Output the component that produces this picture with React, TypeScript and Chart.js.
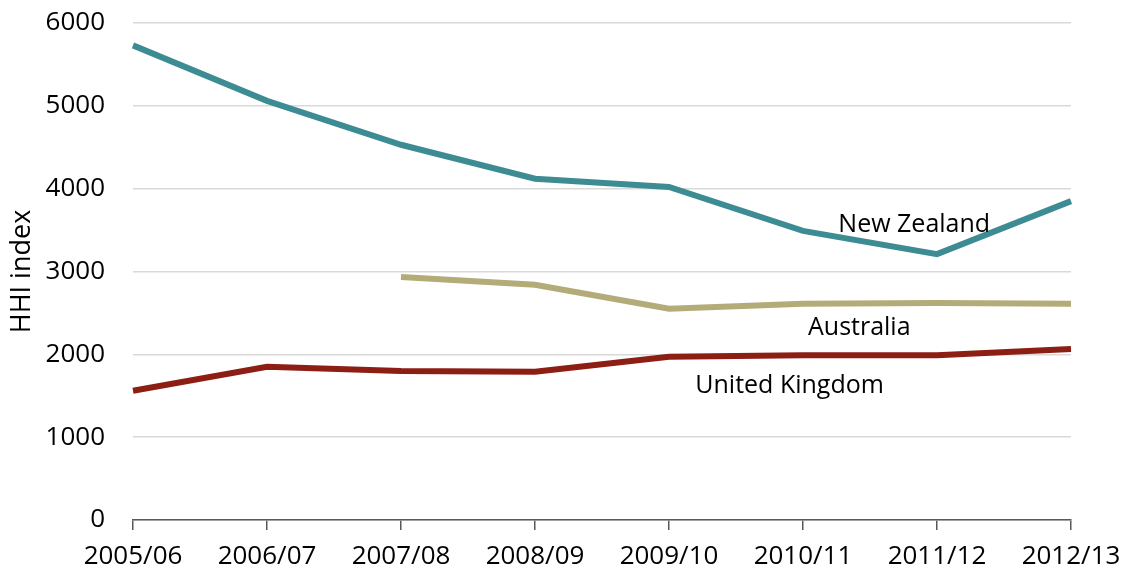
import React, { useEffect, useRef } from "react";
import { Chart, registerables } from "chart.js";

Chart.register(...registerables);

const categories = ["2005/06", "2006/07", "2007/08", "2008/09", "2009/10", "2010/11", "2011/12", "2012/13"];
const newZealand = [5730, 5060, 4530, 4120, 4020, 3490, 3210, 3850];
const australia = [null, null, 2935, 2840, 2550, 2610, 2620, 2610];
const unitedKingdom = [1560, 1850, 1800, 1790, 1970, 1990, 1990, 2065];
const yTicks = [0, 1000, 2000, 3000, 4000, 5000, 6000];

const seriesLabels = [
  { text: "New Zealand", x: 5.83, y: 3560 },
  { text: "Australia", x: 5.42, y: 2315 },
  { text: "United Kingdom", x: 4.9, y: 1625 },
];

const FONT = "'Open Sans', 'Noto Sans', sans-serif";

const labelPlugin = {
  id: "seriesLabels",
  afterDatasetsDraw(chart: any) {
    const { ctx, scales } = chart;
    ctx.save();
    ctx.font = `25px ${FONT}`;
    ctx.fillStyle = "#000";
    ctx.textAlign = "center";
    ctx.textBaseline = "middle";
    for (const l of seriesLabels) {
      const px = scales.x.getPixelForValue(l.x);
      const py = scales.y.getPixelForValue(l.y);
      ctx.fillText(l.text, px, py);
    }
    ctx.restore();
  },
};

export default function App() {
  const ref = useRef<HTMLCanvasElement>(null);
  useEffect(() => {
    document.body.style.margin = "0";
    const chart = new Chart(ref.current!, {
      type: "line",
      data: {
        labels: categories,
        datasets: [
          { label: "New Zealand", data: newZealand, borderColor: "#3E8C93", borderWidth: 6, pointRadius: 0, tension: 0 },
          { label: "Australia", data: australia as any, borderColor: "#B3AC78", borderWidth: 6, pointRadius: 0, tension: 0 },
          { label: "United Kingdom", data: unitedKingdom, borderColor: "#8C1E14", borderWidth: 6, pointRadius: 0, tension: 0 },
        ],
      },
      options: {
        animation: false,
        responsive: false,
        maintainAspectRatio: false,
        layout: { padding: { top: 23, right: 58, left: 0, bottom: 5 } },
        plugins: { legend: { display: false }, tooltip: { enabled: false } },
        scales: {
          x: {
            offset: false,
            afterFit: (axis: any) => {
              axis.height = 52;
              axis.paddingRight = 0;
              axis.paddingLeft = 0;
            },
            grid: { drawOnChartArea: false, drawTicks: true, tickLength: 10, color: "#595959", lineWidth: 1.5 },
            border: { display: true, color: "#595959", width: 1.5 },
            ticks: { color: "#000", font: { family: FONT, size: 26 }, padding: 11, maxRotation: 0, autoSkip: false },
          },
          y: {
            min: 0,
            max: 6000,
            afterBuildTicks: (axis: any) => {
              axis.ticks = yTicks.map((v) => ({ value: v }));
            },
            afterFit: (axis: any) => {
              axis.width = 133;
              axis.paddingTop = 0;
              axis.paddingBottom = 0;
            },
            grid: { color: "#d9d9d9", lineWidth: 1.5, drawTicks: false },
            border: { display: false },
            ticks: { color: "#000", font: { family: FONT, size: 26 }, padding: 28, callback: (v: any) => String(v) },
            title: { display: true, text: "HHI index", color: "#000", font: { family: FONT, size: 27 }, padding: { top: 6, bottom: 8 } },
          },
        },
      },
      plugins: [labelPlugin],
    });
    return () => chart.destroy();
  }, []);
  return (
    <div style={{ width: 1129, height: 577 }}>
      <canvas ref={ref} width={1129} height={577} style={{ display: "block" }} />
    </div>
  );
}
